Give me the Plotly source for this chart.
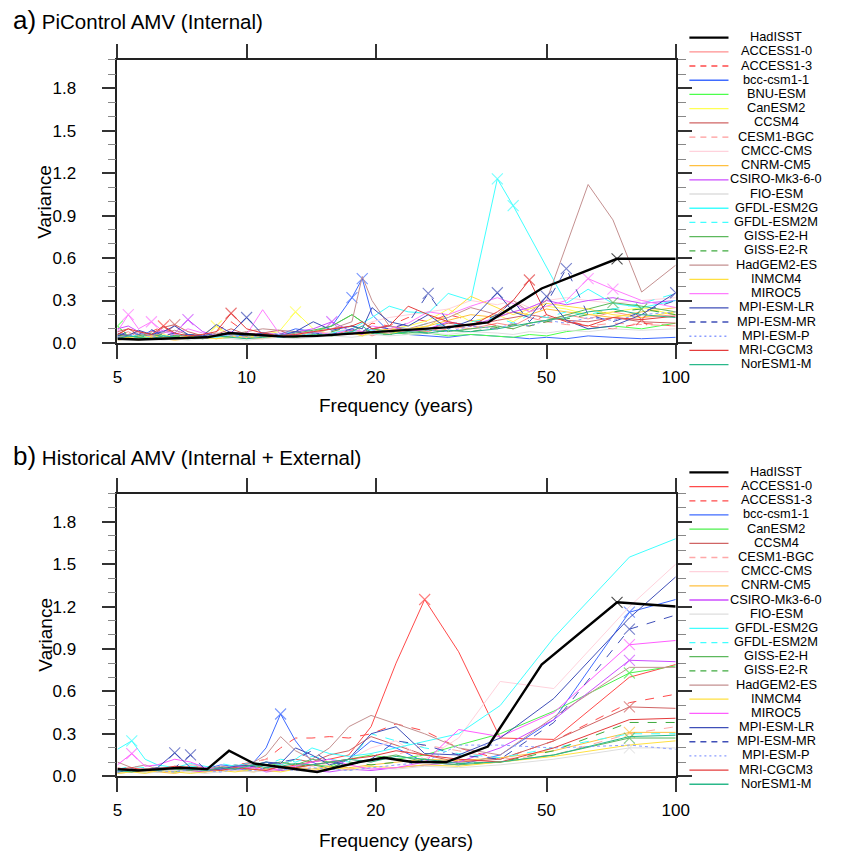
import plotly.graph_objects as go

W, H = 852, 861
FONT = "Liberation Sans, Arial, Helvetica, sans-serif"

# ---------------- Panel a: PiControl ----------------
names_a = ["HadISST", "ACCESS1-0", "ACCESS1-3", "bcc-csm1-1", "BNU-ESM", "CanESM2", "CCSM4",
           "CESM1-BGC", "CMCC-CMS", "CNRM-CM5", "CSIRO-Mk3-6-0", "FIO-ESM", "GFDL-ESM2G",
           "GFDL-ESM2M", "GISS-E2-H", "GISS-E2-R", "HadGEM2-ES", "INMCM4", "MIROC5",
           "MPI-ESM-LR", "MPI-ESM-MR", "MPI-ESM-P", "MRI-CGCM3", "NorESM1-M"]
colors_a = ["#000000", "#ff8f8f", "#ff4a4a", "#3f6bff", "#4cff4c", "#ffff55", "#d06464",
            "#ff9a9a", "#ffd2dc", "#ffc040", "#cc4cff", "#dedede", "#40ffff",
            "#40ffff", "#5cb85c", "#3faa3f", "#c49090", "#ffe040", "#ff7cff",
            "#3f4fb8", "#3f4fb8", "#8a9cff", "#e43c3c", "#2ab88a"]
dashes_a = ["solid", "solid", "dash", "solid", "solid", "solid", "solid",
            "dash", "solid", "solid", "solid", "solid", "solid",
            "dash", "solid", "dash", "solid", "solid", "solid",
            "solid", "dash", "dot", "solid", "solid"]

per_a_obs = [5.0, 5.6, 6.3, 7.0, 8.1, 9.1, 10.4, 12.2, 14.6, 18.3, 20.9, 24.3, 29.2, 36.5, 48.7, 73.0, 100.0]
a_HadISST = [0.03, 0.025, 0.03, 0.035, 0.04, 0.07, 0.06, 0.045, 0.05, 0.07, 0.08, 0.09, 0.11, 0.145, 0.385, 0.595, 0.595]
pk_a_HadISST = [73.0]

per_a = [5.0, 5.3, 5.6, 6.0, 6.4, 6.8, 7.3, 7.9, 8.5, 9.2, 10.0, 10.9, 11.9, 13.0, 14.3, 15.8, 17.6,
         18.6, 19.6, 21.5, 23.8, 26.5, 29.5, 33.3, 38.4, 41.8, 45.6, 50.0, 55.6, 62.5, 71.4, 83.3, 100.0]

a_ACCESS1_0 = [0.05, 0.08, 0.04, 0.06, 0.03, 0.05, 0.04, 0.03, 0.05, 0.04, 0.06, 0.05, 0.04, 0.06, 0.05, 0.07, 0.06,
               0.08, 0.05, 0.09, 0.1, 0.08, 0.12, 0.1, 0.14, 0.12, 0.18, 0.15, 0.2, 0.17, 0.22, 0.18, 0.2]
a_ACCESS1_3 = [0.06, 0.1, 0.05, 0.08, 0.12, 0.06, 0.05, 0.04, 0.08, 0.15, 0.07, 0.05, 0.06, 0.04, 0.08, 0.1, 0.12,
               0.09, 0.14, 0.12, 0.18, 0.15, 0.2, 0.16, 0.12, 0.1, 0.14, 0.2, 0.16, 0.12, 0.1, 0.14, 0.12]
a_bcc_csm1_1 = [0.04, 0.06, 0.03, 0.09, 0.05, 0.04, 0.06, 0.03, 0.05, 0.04, 0.07, 0.05, 0.06, 0.1, 0.08, 0.12, 0.32,
                0.455, 0.2, 0.08, 0.06, 0.05, 0.04, 0.06, 0.05, 0.04, 0.03, 0.04, 0.03, 0.05, 0.04, 0.03, 0.04]
a_BNU_ESM = [0.12, 0.05, 0.04, 0.06, 0.03, 0.05, 0.04, 0.03, 0.04, 0.05, 0.03, 0.06, 0.05, 0.04, 0.08, 0.12, 0.2,
             0.15, 0.1, 0.08, 0.06, 0.07, 0.05, 0.06, 0.05, 0.04, 0.06, 0.05, 0.08, 0.1, 0.12, 0.1, 0.14]
a_CanESM2 = [0.03, 0.04, 0.05, 0.03, 0.06, 0.04, 0.05, 0.06, 0.12, 0.05, 0.04, 0.06, 0.08, 0.22, 0.1, 0.06, 0.08,
             0.05, 0.07, 0.1, 0.12, 0.16, 0.24, 0.15, 0.2, 0.15, 0.22, 0.26, 0.24, 0.2, 0.22, 0.25, 0.2]
a_CCSM4 = [0.08, 0.1, 0.06, 0.05, 0.11, 0.13, 0.08, 0.05, 0.06, 0.1, 0.06, 0.07, 0.09, 0.05, 0.08, 0.06, 0.09,
           0.08, 0.1, 0.12, 0.09, 0.1, 0.14, 0.12, 0.16, 0.18, 0.2, 0.18, 0.16, 0.15, 0.18, 0.15, 0.14]
a_CESM1_BGC = [0.05, 0.04, 0.07, 0.05, 0.04, 0.06, 0.05, 0.04, 0.05, 0.06, 0.04, 0.05, 0.06, 0.08, 0.06, 0.05, 0.07,
               0.06, 0.08, 0.07, 0.09, 0.08, 0.1, 0.12, 0.1, 0.14, 0.12, 0.15, 0.13, 0.12, 0.14, 0.13, 0.12]
a_CMCC_CMS = [0.03, 0.04, 0.05, 0.04, 0.03, 0.05, 0.04, 0.05, 0.06, 0.05, 0.04, 0.06, 0.05, 0.07, 0.06, 0.08, 0.1,
              0.12, 0.15, 0.18, 0.2, 0.22, 0.24, 0.3, 0.27, 0.3, 0.25, 0.3, 0.32, 0.3, 0.28, 0.3, 0.32]
a_CNRM_CM5 = [0.02, 0.03, 0.02, 0.04, 0.03, 0.02, 0.03, 0.04, 0.03, 0.05, 0.04, 0.03, 0.05, 0.04, 0.06, 0.05, 0.07,
              0.06, 0.08, 0.1, 0.09, 0.12, 0.16, 0.2, 0.18, 0.22, 0.2, 0.24, 0.22, 0.2, 0.18, 0.22, 0.25]
a_CSIRO_Mk3_6_0 = [0.1, 0.12, 0.08, 0.06, 0.09, 0.07, 0.165, 0.08, 0.05, 0.06, 0.05, 0.07, 0.06, 0.08, 0.1, 0.15, 0.08,
                   0.06, 0.1, 0.12, 0.08, 0.1, 0.15, 0.12, 0.18, 0.22, 0.25, 0.3, 0.27, 0.3, 0.32, 0.28, 0.3]
a_FIO_ESM = [0.02, 0.03, 0.02, 0.03, 0.02, 0.03, 0.02, 0.03, 0.04, 0.03, 0.02, 0.03, 0.04, 0.03, 0.04, 0.05, 0.04,
             0.05, 0.06, 0.05, 0.06, 0.07, 0.06, 0.08, 0.07, 0.06, 0.08, 0.07, 0.09, 0.08, 0.1, 0.09, 0.1]
a_GFDL_ESM2G = [0.05, 0.04, 0.06, 0.03, 0.05, 0.04, 0.03, 0.05, 0.04, 0.06, 0.05, 0.04, 0.06, 0.08, 0.05, 0.07, 0.1,
                0.14, 0.18, 0.26, 0.22, 0.21, 0.35, 0.3, 1.16, 0.97, 0.76, 0.53, 0.28, 0.38, 0.28, 0.25, 0.3]
a_GFDL_ESM2M = [0.04, 0.05, 0.03, 0.04, 0.06, 0.03, 0.04, 0.05, 0.03, 0.04, 0.06, 0.05, 0.04, 0.05, 0.07, 0.06, 0.08,
                0.1, 0.09, 0.12, 0.1, 0.14, 0.12, 0.15, 0.18, 0.14, 0.2, 0.18, 0.22, 0.2, 0.24, 0.28, 0.35]
a_GISS_E2_H = [0.06, 0.04, 0.05, 0.07, 0.04, 0.05, 0.06, 0.04, 0.05, 0.07, 0.05, 0.06, 0.05, 0.07, 0.09, 0.12, 0.2,
               0.15, 0.1, 0.08, 0.07, 0.09, 0.08, 0.1, 0.12, 0.1, 0.14, 0.16, 0.2, 0.24, 0.285, 0.26, 0.22]
a_GISS_E2_R = [0.05, 0.06, 0.04, 0.05, 0.06, 0.05, 0.04, 0.06, 0.05, 0.04, 0.06, 0.07, 0.05, 0.06, 0.05, 0.08, 0.12,
               0.1, 0.07, 0.06, 0.08, 0.07, 0.09, 0.08, 0.11, 0.13, 0.12, 0.15, 0.17, 0.2, 0.22, 0.24, 0.2]
a_HadGEM2_ES = [0.04, 0.06, 0.08, 0.05, 0.07, 0.09, 0.06, 0.05, 0.07, 0.06, 0.08, 0.1, 0.09, 0.08, 0.07, 0.1, 0.15,
                0.47, 0.3, 0.12, 0.1, 0.14, 0.18, 0.25, 0.2, 0.3, 0.22, 0.3, 0.69, 1.12, 0.87, 0.36, 0.55]
a_INMCM4 = [0.03, 0.04, 0.03, 0.05, 0.04, 0.03, 0.05, 0.04, 0.03, 0.04, 0.05, 0.04, 0.06, 0.05, 0.08, 0.06, 0.07,
            0.05, 0.08, 0.06, 0.1, 0.12, 0.2, 0.33, 0.25, 0.2, 0.24, 0.28, 0.26, 0.24, 0.2, 0.18, 0.22]
a_MIROC5 = [0.08, 0.2, 0.1, 0.15, 0.08, 0.06, 0.1, 0.07, 0.05, 0.08, 0.06, 0.235, 0.07, 0.06, 0.08, 0.06, 0.1,
            0.08, 0.12, 0.1, 0.14, 0.22, 0.2, 0.26, 0.32, 0.28, 0.22, 0.26, 0.3, 0.455, 0.38, 0.3, 0.25]
a_MPI_ESM_LR = [0.07, 0.05, 0.09, 0.06, 0.08, 0.12, 0.06, 0.05, 0.13, 0.07, 0.18, 0.06, 0.05, 0.08, 0.15, 0.09, 0.12,
                0.1, 0.25, 0.15, 0.12, 0.2, 0.1, 0.16, 0.355, 0.22, 0.18, 0.33, 0.16, 0.1, 0.12, 0.2, 0.355]
a_MPI_ESM_MR = [0.05, 0.08, 0.06, 0.095, 0.05, 0.07, 0.06, 0.05, 0.07, 0.06, 0.05, 0.07, 0.06, 0.08, 0.07, 0.06, 0.1,
                0.08, 0.12, 0.1, 0.14, 0.35, 0.15, 0.12, 0.2, 0.3, 0.15, 0.28, 0.525, 0.2, 0.15, 0.22, 0.3]
a_MPI_ESM_P = [0.04, 0.05, 0.07, 0.05, 0.04, 0.06, 0.05, 0.04, 0.06, 0.05, 0.04, 0.05, 0.06, 0.05, 0.07, 0.06, 0.08,
               0.07, 0.09, 0.08, 0.1, 0.09, 0.08, 0.12, 0.1, 0.14, 0.12, 0.16, 0.14, 0.18, 0.16, 0.2, 0.22]
a_MRI_CGCM3 = [0.06, 0.1, 0.08, 0.06, 0.12, 0.07, 0.05, 0.06, 0.08, 0.21, 0.1, 0.07, 0.05, 0.06, 0.08, 0.1, 0.12,
               0.15, 0.1, 0.12, 0.26, 0.2, 0.15, 0.12, 0.22, 0.3, 0.445, 0.2, 0.15, 0.12, 0.18, 0.165, 0.19]
a_NorESM1_M = [0.03, 0.05, 0.04, 0.03, 0.05, 0.04, 0.03, 0.04, 0.05, 0.04, 0.03, 0.04, 0.05, 0.04, 0.06, 0.05, 0.08,
               0.12, 0.07, 0.06, 0.08, 0.07, 0.09, 0.08, 0.1, 0.12, 0.14, 0.16, 0.18, 0.22, 0.24, 0.2, 0.18]

vals_a = [a_ACCESS1_0, a_ACCESS1_3, a_bcc_csm1_1, a_BNU_ESM, a_CanESM2, a_CCSM4, a_CESM1_BGC, a_CMCC_CMS,
          a_CNRM_CM5, a_CSIRO_Mk3_6_0, a_FIO_ESM, a_GFDL_ESM2G, a_GFDL_ESM2M, a_GISS_E2_H, a_GISS_E2_R,
          a_HadGEM2_ES, a_INMCM4, a_MIROC5, a_MPI_ESM_LR, a_MPI_ESM_MR, a_MPI_ESM_P, a_MRI_CGCM3, a_NorESM1_M]
peaks_a = [[], [6.4], [17.6, 18.6], [5.0], [8.5, 13.0], [6.8], [], [], [], [7.3, 15.8], [], [38.4, 41.8], [],
           [71.4], [83.3], [], [], [5.3, 6.0, 62.5, 71.4], [10.0, 38.4, 50.0, 100.0], [26.5, 55.6], [],
           [9.2, 45.6, 83.3], []]

# ---------------- Panel b: Historical ----------------
names_b = ["HadISST", "ACCESS1-0", "ACCESS1-3", "bcc-csm1-1", "CanESM2", "CCSM4", "CESM1-BGC",
           "CMCC-CMS", "CNRM-CM5", "CSIRO-Mk3-6-0", "FIO-ESM", "GFDL-ESM2G", "GFDL-ESM2M",
           "GISS-E2-H", "GISS-E2-R", "HadGEM2-ES", "INMCM4", "MIROC5", "MPI-ESM-LR",
           "MPI-ESM-MR", "MPI-ESM-P", "MRI-CGCM3", "NorESM1-M"]
colors_b = ["#000000", "#ff4a4a", "#ff4a4a", "#3f6bff", "#4cf04c", "#d06464", "#ffa8a8",
            "#ffd2dc", "#ffc040", "#cc4cff", "#dedede", "#40ffff", "#40ffff",
            "#5cb85c", "#3faa3f", "#c49090", "#ffe040", "#ff5cff", "#3f4fb8",
            "#3f4fb8", "#8a9cff", "#e43c3c", "#2ab88a"]
dashes_b = ["solid", "solid", "dash", "solid", "solid", "solid", "dash",
            "solid", "solid", "solid", "solid", "solid", "dash",
            "solid", "dash", "solid", "solid", "solid", "solid",
            "dash", "dot", "solid", "solid"]

per_b_obs = [5.0, 5.6, 6.3, 7.0, 8.1, 9.1, 10.4, 12.2, 14.6, 18.3, 20.9, 24.3, 29.2, 36.5, 48.7, 73.0, 100.0]
b_HadISST = [0.05, 0.04, 0.05, 0.06, 0.05, 0.18, 0.09, 0.06, 0.03, 0.1, 0.13, 0.1, 0.1, 0.21, 0.79, 1.23, 1.2]
pk_b_HadISST = [73.0]

per_b = [5.0, 5.4, 5.8, 6.2, 6.8, 7.4, 8.0, 8.7, 9.4, 10.4, 11.1, 12.0, 13.0, 14.2, 15.6, 17.3,
         19.5, 22.3, 26.0, 31.2, 39.0, 52.0, 78.0, 100.0]

b_ACCESS1_0 = [0.04, 0.03, 0.05, 0.04, 0.06, 0.05, 0.04, 0.06, 0.05, 0.07, 0.05, 0.06, 0.08, 0.1, 0.12, 0.15,
               0.35, 0.8, 1.25, 0.88, 0.27, 0.26, 0.7, 0.79]
b_ACCESS1_3 = [0.05, 0.04, 0.06, 0.05, 0.04, 0.06, 0.07, 0.05, 0.08, 0.1, 0.12, 0.2, 0.27, 0.27, 0.28, 0.27,
               0.3, 0.37, 0.32, 0.2, 0.12, 0.25, 0.52, 0.58]
b_bcc_csm1_1 = [0.03, 0.05, 0.04, 0.03, 0.06, 0.04, 0.05, 0.08, 0.07, 0.1, 0.2, 0.44, 0.25, 0.1, 0.05, 0.12,
                0.25, 0.2, 0.1, 0.08, 0.15, 0.4, 1.16, 1.25]
b_CanESM2 = [0.03, 0.04, 0.03, 0.05, 0.04, 0.06, 0.05, 0.04, 0.06, 0.08, 0.1, 0.07, 0.06, 0.08, 0.07, 0.12,
             0.15, 0.12, 0.15, 0.22, 0.3, 0.46, 0.73, 0.78]
b_CCSM4 = [0.06, 0.04, 0.05, 0.06, 0.05, 0.07, 0.06, 0.05, 0.08, 0.06, 0.1, 0.08, 0.12, 0.1, 0.15, 0.18,
           0.28, 0.22, 0.15, 0.1, 0.12, 0.25, 0.49, 0.48]
b_CESM1_BGC = [0.04, 0.06, 0.05, 0.04, 0.06, 0.08, 0.07, 0.05, 0.06, 0.1, 0.12, 0.09, 0.08, 0.07, 0.1, 0.12,
               0.1, 0.15, 0.22, 0.18, 0.12, 0.15, 0.3, 0.35]
b_CMCC_CMS = [0.03, 0.04, 0.03, 0.05, 0.04, 0.03, 0.05, 0.04, 0.06, 0.05, 0.04, 0.06, 0.05, 0.07, 0.09, 0.12,
              0.2, 0.25, 0.12, 0.27, 0.67, 0.62, 1.2, 1.5]
b_CNRM_CM5 = [0.02, 0.03, 0.04, 0.03, 0.02, 0.04, 0.03, 0.05, 0.04, 0.03, 0.05, 0.04, 0.06, 0.05, 0.07, 0.06,
              0.08, 0.1, 0.12, 0.11, 0.13, 0.18, 0.31, 0.31]
b_CSIRO_Mk3_6_0 = [0.03, 0.05, 0.04, 0.06, 0.05, 0.04, 0.03, 0.05, 0.04, 0.06, 0.03, 0.04, 0.05, 0.04, 0.03, 0.05,
                   0.04, 0.06, 0.08, 0.1, 0.2, 0.4, 0.82, 0.81]
b_FIO_ESM = [0.02, 0.03, 0.02, 0.03, 0.04, 0.03, 0.02, 0.03, 0.04, 0.03, 0.04, 0.05, 0.04, 0.03, 0.05, 0.04,
             0.06, 0.05, 0.07, 0.06, 0.08, 0.12, 0.2, 0.2]
b_GFDL_ESM2G = [0.19, 0.25, 0.12, 0.08, 0.06, 0.09, 0.07, 0.05, 0.08, 0.06, 0.1, 0.08, 0.12, 0.2, 0.16, 0.14,
                0.16, 0.2, 0.25, 0.3, 0.5, 0.98, 1.55, 1.68]
b_GFDL_ESM2M = [0.05, 0.07, 0.06, 0.08, 0.05, 0.07, 0.06, 0.09, 0.07, 0.1, 0.08, 0.12, 0.1, 0.14, 0.12, 0.1,
                0.3, 0.25, 0.2, 0.16, 0.13, 0.2, 0.3, 0.3]
b_GISS_E2_H = [0.04, 0.05, 0.04, 0.06, 0.05, 0.04, 0.06, 0.05, 0.07, 0.06, 0.08, 0.1, 0.08, 0.12, 0.1, 0.08,
               0.12, 0.15, 0.1, 0.08, 0.1, 0.15, 0.27, 0.27]
b_GISS_E2_R = [0.03, 0.04, 0.05, 0.04, 0.03, 0.05, 0.04, 0.06, 0.05, 0.04, 0.06, 0.05, 0.07, 0.08, 0.06, 0.1,
               0.08, 0.1, 0.12, 0.09, 0.1, 0.18, 0.38, 0.38]
b_HadGEM2_ES = [0.1, 0.06, 0.08, 0.05, 0.07, 0.06, 0.05, 0.07, 0.06, 0.1, 0.15, 0.28, 0.18, 0.12, 0.2, 0.35,
                0.43, 0.37, 0.3, 0.2, 0.15, 0.42, 0.77, 0.77]
b_INMCM4 = [0.02, 0.03, 0.02, 0.04, 0.03, 0.02, 0.03, 0.04, 0.03, 0.05, 0.04, 0.03, 0.05, 0.04, 0.06, 0.05,
            0.07, 0.06, 0.08, 0.07, 0.1, 0.14, 0.22, 0.25]
b_MIROC5 = [0.08, 0.16, 0.07, 0.08, 0.12, 0.1, 0.06, 0.05, 0.07, 0.06, 0.04, 0.05, 0.07, 0.1, 0.12, 0.08,
            0.05, 0.06, 0.1, 0.33, 0.28, 0.45, 0.93, 0.96]
b_MPI_ESM_LR = [0.03, 0.05, 0.04, 0.06, 0.165, 0.06, 0.04, 0.05, 0.07, 0.08, 0.1, 0.09, 0.2, 0.15, 0.08, 0.12,
                0.3, 0.35, 0.16, 0.15, 0.27, 0.55, 1.12, 1.41]
b_MPI_ESM_MR = [0.04, 0.03, 0.05, 0.04, 0.06, 0.15, 0.05, 0.06, 0.05, 0.07, 0.08, 0.1, 0.12, 0.18, 0.1, 0.08,
                0.12, 0.25, 0.22, 0.15, 0.12, 0.38, 1.04, 1.14]
b_MPI_ESM_P = [0.03, 0.04, 0.05, 0.04, 0.03, 0.05, 0.04, 0.03, 0.05, 0.04, 0.06, 0.05, 0.04, 0.06, 0.05, 0.04,
               0.06, 0.08, 0.1, 0.22, 0.22, 0.2, 0.22, 0.19]
b_MRI_CGCM3 = [0.05, 0.06, 0.04, 0.05, 0.07, 0.06, 0.05, 0.04, 0.06, 0.05, 0.04, 0.07, 0.06, 0.08, 0.1, 0.12,
               0.14, 0.18, 0.15, 0.12, 0.1, 0.2, 0.4, 0.41]
b_NorESM1_M = [0.04, 0.03, 0.05, 0.04, 0.06, 0.05, 0.04, 0.06, 0.05, 0.08, 0.06, 0.07, 0.09, 0.08, 0.1, 0.12,
               0.1, 0.14, 0.12, 0.09, 0.1, 0.15, 0.28, 0.29]

vals_b = [b_ACCESS1_0, b_ACCESS1_3, b_bcc_csm1_1, b_CanESM2, b_CCSM4, b_CESM1_BGC, b_CMCC_CMS, b_CNRM_CM5,
          b_CSIRO_Mk3_6_0, b_FIO_ESM, b_GFDL_ESM2G, b_GFDL_ESM2M, b_GISS_E2_H, b_GISS_E2_R, b_HadGEM2_ES,
          b_INMCM4, b_MIROC5, b_MPI_ESM_LR, b_MPI_ESM_MR, b_MPI_ESM_P, b_MRI_CGCM3, b_NorESM1_M]
peaks_b = [[26.0], [], [12.0, 78.0], [78.0], [78.0], [], [], [78.0], [78.0], [78.0], [5.4], [],
           [78.0], [], [], [], [5.4, 78.0], [6.8], [7.4, 78.0], [], [], []]

y_ticks = [0.0, 0.3, 0.6, 0.9, 1.2, 1.5, 1.8]
x_ticks = [5, 10, 20, 50, 100]

# ---------------- figure ----------------
fig = go.Figure()


def add_series(per, vals, peaks, color, dash, width, xa, ya):
    sizes = [11 if p in peaks else 0 for p in per]
    fig.add_trace(go.Scatter(
        x=per, y=vals, mode="lines+markers", xaxis=xa, yaxis=ya, showlegend=False,
        line=dict(color=color, width=width, dash=dash),
        marker=dict(symbol="x-thin", size=sizes, line=dict(color=color, width=1.1)),
        hoverinfo="skip"))


for i, v in enumerate(vals_a):
    add_series(per_a, v, peaks_a[i], colors_a[i + 1], dashes_a[i + 1], 1, "x", "y")
add_series(per_a_obs, a_HadISST, pk_a_HadISST, "#000000", "solid", 2.4, "x", "y")

for i, v in enumerate(vals_b):
    add_series(per_b, v, peaks_b[i], colors_b[i + 1], dashes_b[i + 1], 1, "x2", "y2")
add_series(per_b_obs, b_HadISST, pk_b_HadISST, "#000000", "solid", 2.4, "x2", "y2")

xdom = [115 / W, 686 / W]
ydom_a = [1 - 347 / H, 1 - 60.7 / H]
ydom_b = [1 - 785.3 / H, 1 - 499.3 / H]

xax = dict(type="log", range=[0.69897, 2.0], tickvals=x_ticks, ticktext=[str(t) for t in x_ticks],
           ticks="outside", ticklen=14, tickwidth=1.5, tickcolor="#333", showline=True,
           linecolor="#222", linewidth=1.6, mirror="ticks", showgrid=False, zeroline=False,
           tickfont=dict(family=FONT, size=17, color="black"), ticklabelstandoff=4, domain=xdom)
yax = dict(range=[0, 2.0], tickvals=y_ticks, ticktext=["%.1f" % t for t in y_ticks],
           ticks="outside", ticklen=14, tickwidth=1.5, tickcolor="#333", showline=True,
           linecolor="#222", linewidth=1.6, mirror="ticks", showgrid=False, zeroline=False,
           minor=dict(dtick=0.1, tick0=0, ticks="outside", ticklen=8, tickwidth=1.2, tickcolor="#888"),
           tickfont=dict(family=FONT, size=17, color="black"), ticklabelstandoff=22)

fig.update_layout(
    width=W, height=H, autosize=False, margin=dict(l=0, r=0, t=0, b=0),
    paper_bgcolor="white", plot_bgcolor="white", showlegend=False,
    xaxis=dict(xax, anchor="y"), yaxis=dict(yax, domain=ydom_a, anchor="x"),
    xaxis2=dict(xax, anchor="y2"), yaxis2=dict(yax, domain=ydom_b, anchor="x2"),
)


def px(xp, yp):
    return xp / W, 1 - yp / H


annotations = []
shapes = []


def text_at(xp, yp, txt, size, xanchor="center", angle=0):
    x, y = px(xp, yp)
    annotations.append(dict(x=x, y=y, xref="paper", yref="paper", text=txt, showarrow=False,
                            xanchor=xanchor, yanchor="middle", textangle=angle, borderpad=0,
                            font=dict(family=FONT, size=size, color="black")))


# panel titles
text_at(7, 20, "<span style='font-size:26px'>a)</span> PiControl AMV (Internal)", 20.5, "left")
text_at(7, 461, "<span style='font-size:26px'>b)</span> Historical AMV (Internal + External)", 20.5, "left")
# axis titles
text_at(400, 410, "Frequency (years)", 19)
text_at(400, 850, "Frequency (years)", 19)
text_at(41, 204, "Variance", 19, angle=-90)
text_at(41, 642, "Variance", 19, angle=-90)


# legends
def legend(names, colors, dashes, y0, step):
    for i, nm in enumerate(names):
        yp = y0 + i * step
        x0, y = px(700, yp)
        x1, _ = px(740, yp)
        w = 2.2 if nm == "HadISST" else 1.3
        d = {"solid": "solid", "dash": "6px,5px", "dot": "2px,3px"}[dashes[i]]
        shapes.append(dict(type="line", xref="paper", yref="paper", x0=x0, x1=x1, y0=y, y1=y,
                           line=dict(color=colors[i], width=w, dash=d)))
        text_at(789, yp - 1, nm, 12.8)


legend(names_a, colors_a, dashes_a, 38.0, 14.39)
legend(names_b, colors_b, dashes_b, 478.0, 14.34)

fig.update_layout(annotations=annotations, shapes=shapes)
fig.write_html("out.html")
